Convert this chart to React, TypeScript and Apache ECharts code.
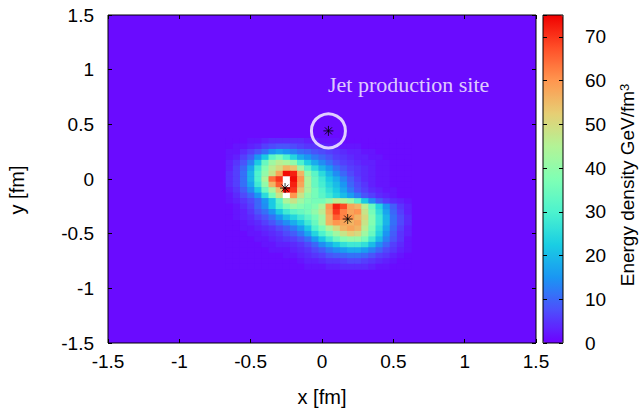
import { useEffect, useRef } from "react";
import * as echarts from "echarts";

// Cell centres (fm) of the region where the density differs from the background
const X_CENTERS = [-0.65, -0.6, -0.55, -0.5, -0.45, -0.4, -0.35, -0.3, -0.25, -0.2, -0.15, -0.1, -0.05, 0, 0.05, 0.1, 0.15, 0.2, 0.25, 0.3, 0.35, 0.4, 0.45, 0.5, 0.55, 0.6];
const Y_CENTERS = [0.35, 0.3, 0.25, 0.2, 0.15, 0.1, 0.05, 0, -0.05, -0.1, -0.15, -0.2, -0.25, -0.3, -0.35, -0.4, -0.45, -0.5, -0.55, -0.6, -0.65, -0.7, -0.75, -0.8];
const CELL = 0.05;

// Energy density (GeV/fm^3), one row per Y_CENTERS entry, one column per X_CENTERS entry
const DENSITY: number[][] = [
  [1, 1, 1, 2, 2, 3, 4, 4, 4, 4, 4, 3, 3, 2, 2, 2, 1, 1, 1, 1, 1, 1, 1, 1, 1, 1],
  [1, 2, 2, 3, 4, 6, 7, 8, 8, 7, 6, 5, 5, 4, 3, 3, 2, 2, 2, 1, 1, 1, 1, 1, 1, 1],
  [2, 2, 4, 6, 8, 11, 15, 17, 15, 13, 11, 10, 8, 7, 6, 5, 4, 3, 3, 2, 2, 1, 1, 1, 1, 1],
  [2, 3, 6, 9, 15, 22, 32, 36, 30, 24, 18, 15, 12, 10, 8, 6, 5, 4, 3, 3, 2, 2, 1, 1, 1, 1],
  [3, 5, 8, 13, 22, 34, 42, 46, 44, 40, 30, 23, 18, 14, 11, 8, 6, 5, 4, 3, 3, 2, 2, 1, 1, 1],
  [3, 6, 10, 17, 28, 38, 46, 50, 56, 54, 42, 32, 25, 19, 15, 11, 8, 6, 5, 4, 3, 2, 2, 1, 1, 1],
  [4, 6, 11, 19, 30, 40, 48, 58, 74, 72, 56, 40, 32, 25, 19, 14, 10, 7, 5, 4, 3, 2, 2, 1, 1, 1],
  [4, 6, 11, 19, 30, 44, 64, 70, 76, 74, 60, 44, 34, 28, 22, 18, 13, 9, 6, 4, 3, 2, 2, 1, 1, 1],
  [4, 6, 11, 17, 28, 40, 56, 66, 76, 72, 58, 44, 34, 29, 24, 20, 15, 10, 7, 5, 3, 2, 2, 1, 1, 1],
  [3, 5, 9, 14, 22, 34, 44, 54, 74, 70, 54, 44, 36, 31, 26, 22, 17, 12, 8, 6, 4, 3, 2, 2, 1, 1],
  [2, 4, 7, 10, 15, 25, 36, 48, 80, 60, 48, 40, 36, 32, 28, 24, 20, 16, 12, 8, 6, 4, 3, 2, 1, 1],
  [2, 3, 5, 7, 10, 15, 22, 32, 44, 48, 42, 38, 36, 36, 40, 46, 44, 40, 32, 22, 14, 9, 6, 4, 3, 2],
  [1, 2, 4, 6, 10, 14, 22, 30, 36, 40, 38, 36, 38, 44, 60, 72, 68, 58, 56, 46, 34, 24, 15, 9, 5, 3],
  [1, 2, 3, 5, 8, 11, 15, 22, 28, 32, 34, 36, 40, 46, 58, 70, 62, 58, 60, 48, 36, 26, 17, 10, 6, 3],
  [1, 2, 3, 4, 6, 8, 11, 15, 20, 24, 28, 32, 36, 42, 56, 66, 62, 60, 56, 50, 38, 28, 19, 11, 7, 4],
  [1, 1, 2, 3, 4, 6, 8, 11, 14, 18, 22, 28, 34, 42, 56, 60, 58, 56, 58, 48, 38, 28, 19, 11, 7, 4],
  [1, 1, 2, 2, 3, 4, 5, 7, 9, 12, 16, 22, 30, 36, 44, 50, 56, 58, 56, 46, 36, 26, 17, 10, 6, 3],
  [1, 1, 1, 2, 2, 3, 4, 5, 7, 9, 12, 17, 24, 30, 36, 42, 48, 52, 50, 42, 34, 24, 15, 9, 5, 3],
  [1, 1, 1, 1, 2, 2, 3, 4, 5, 6, 8, 11, 16, 22, 28, 34, 38, 40, 40, 36, 28, 20, 13, 8, 5, 2],
  [1, 1, 1, 1, 1, 2, 2, 3, 3, 4, 5, 7, 10, 14, 18, 22, 26, 28, 28, 26, 20, 14, 10, 6, 4, 2],
  [1, 1, 1, 1, 1, 1, 2, 2, 2, 3, 4, 5, 7, 9, 12, 14, 16, 18, 18, 16, 13, 10, 7, 5, 3, 2],
  [1, 1, 1, 1, 1, 1, 1, 1, 2, 2, 3, 4, 5, 6, 8, 9, 10, 11, 11, 10, 8, 6, 5, 3, 2, 1],
  [1, 1, 1, 1, 1, 1, 1, 1, 1, 1, 2, 3, 3, 4, 5, 5, 6, 7, 7, 6, 5, 4, 3, 2, 1, 1],
  [1, 1, 1, 1, 1, 1, 1, 1, 1, 1, 1, 2, 2, 2, 3, 3, 4, 4, 4, 4, 3, 2, 2, 1, 1, 1],
];

// Black asterisks: two hot spots and the jet production site
const STAR_POINTS = [
  [-0.259, -0.083],
  [0.18, -0.366],
  [0.045, 0.44],
];
const JET_SITE = [[0.045, 0.44]];
const JET_LABEL_POS = [[0.042, 0.86]];
const JET_LABEL = "Jet production site";

const CB_MIN = 0;
const CB_MAX = 75;
const PALETTE = [
  "#6e00ff", "#4d4ffc", "#1a96f3", "#1acee3", "#4df3ce", "#80ffb4",
  "#b3f396", "#e6ce74", "#ff964f", "#ff4f28", "#f00000",
];
const OVER_COLOR = "#ffffff";

const SANS = "'Liberation Sans', Arial, Helvetica, sans-serif";
const SERIF = "'Liberation Serif', 'Times New Roman', serif";

export default function App() {
  const ref = useRef<HTMLDivElement>(null);

  useEffect(() => {
    const chart = echarts.init(ref.current!, null, { renderer: "svg" });

    const cells: number[][] = [];
    Y_CENTERS.forEach((y, r) => {
      X_CENTERS.forEach((x, c) => {
        cells.push([x, y, DENSITY[r][c]]);
      });
    });

    const tickStyle = { inside: true, length: 4, lineStyle: { color: "#000", width: 1 } };
    const labelStyle = { color: "#000", fontSize: 19, fontFamily: SANS };
    const noLine = { show: false, onZero: false };

    const option: any = {
      animation: false,
      backgroundColor: "#ffffff",
      grid: [
        {
          left: 108, top: 15, width: 428, height: 328,
          show: true, backgroundColor: "#6a0bff", borderColor: "#000", borderWidth: 1,
        },
        { left: 543, top: 15, width: 20, height: 328, show: false },
      ],
      xAxis: [
        {
          type: "value", gridIndex: 0, position: "bottom", min: -1.5, max: 1.5, interval: 0.5,
          axisLine: noLine, axisTick: tickStyle, splitLine: { show: false },
          axisLabel: { ...labelStyle, margin: 9 }, z: 5,
        },
        {
          type: "value", gridIndex: 0, position: "top", min: -1.5, max: 1.5, interval: 0.5,
          axisLine: noLine, axisTick: tickStyle, splitLine: { show: false },
          axisLabel: { show: false }, z: 5,
        },
        { type: "value", gridIndex: 1, min: 0, max: 1, show: false, axisLine: noLine },
      ],
      yAxis: [
        {
          type: "value", gridIndex: 0, position: "left", min: -1.5, max: 1.5, interval: 0.5,
          axisLine: noLine, axisTick: tickStyle, splitLine: { show: false },
          axisLabel: { ...labelStyle, margin: 14 }, z: 5,
        },
        {
          type: "value", gridIndex: 0, position: "right", min: -1.5, max: 1.5, interval: 0.5,
          axisLine: noLine, axisTick: tickStyle, splitLine: { show: false },
          axisLabel: { show: false }, z: 5,
        },
        {
          type: "value", gridIndex: 1, position: "left", min: CB_MIN, max: CB_MAX, interval: 10,
          axisLine: noLine, axisTick: tickStyle, splitLine: { show: false },
          axisLabel: { show: false }, z: 10,
        },
        {
          type: "value", gridIndex: 1, position: "right", min: CB_MIN, max: CB_MAX, interval: 10,
          axisLine: noLine, axisTick: tickStyle, splitLine: { show: false },
          axisLabel: { ...labelStyle, margin: 22, showMaxLabel: false }, z: 10,
        },
      ],
      visualMap: {
        type: "continuous",
        min: CB_MIN,
        max: CB_MAX,
        dimension: 2,
        seriesIndex: 0,
        left: 543,
        top: 15,
        itemWidth: 20,
        itemHeight: 328,
        padding: 0,
        calculable: false,
        hoverLink: false,
        inRange: { color: PALETTE },
        z: 4,
      },
      series: [
        {
          type: "custom",
          xAxisIndex: 0,
          yAxisIndex: 0,
          data: cells,
          encode: { x: 0, y: 1 },
          silent: true,
          renderItem: (_params: any, api: any) => {
            const x = api.value(0) as number;
            const y = api.value(1) as number;
            const v = api.value(2) as number;
            const a = api.coord([x - CELL / 2, y + CELL / 2]);
            const b = api.coord([x + CELL / 2, y - CELL / 2]);
            return {
              type: "rect",
              shape: { x: a[0], y: a[1], width: b[0] - a[0] + 0.6, height: b[1] - a[1] + 0.6 },
              style: { fill: v > CB_MAX ? OVER_COLOR : api.visual("color") },
            };
          },
        },
        {
          type: "scatter",
          xAxisIndex: 0,
          yAxisIndex: 0,
          data: JET_SITE,
          symbol: "circle",
          symbolSize: 34,
          silent: true,
          itemStyle: { color: "rgba(0,0,0,0)", borderColor: "#ffffff", borderWidth: 3 },
          z: 6,
        },
        {
          type: "scatter",
          xAxisIndex: 0,
          yAxisIndex: 0,
          data: STAR_POINTS,
          symbol: "path://M5,0L5,10M0,5L10,5M1.5,1.5L8.5,8.5M1.5,8.5L8.5,1.5",
          symbolSize: 10,
          silent: true,
          itemStyle: { color: "rgba(0,0,0,0)", borderColor: "#000", borderWidth: 1 },
          z: 7,
        },
        {
          type: "scatter",
          xAxisIndex: 0,
          yAxisIndex: 0,
          data: JET_LABEL_POS,
          symbolSize: 0,
          silent: true,
          label: {
            show: true,
            formatter: JET_LABEL,
            position: "right",
            distance: 0,
            color: "#ffffff",
            fontFamily: SERIF,
            fontSize: 22,
            verticalAlign: "middle",
          },
          z: 7,
        },
      ],
      graphic: [
        {
          type: "rect",
          shape: { x: 543, y: 15, width: 20, height: 328 },
          style: { fill: "none", stroke: "#000", lineWidth: 1 },
          z: 100,
          silent: true,
        },
        {
          type: "text",
          x: 322,
          y: 397,
          style: { text: "x [fm]", fill: "#000", font: `20px ${SANS}`, align: "center", verticalAlign: "middle" },
          z: 100,
        },
        {
          type: "text",
          x: 17,
          y: 190,
          rotation: Math.PI / 2,
          style: { text: "y [fm]", fill: "#000", font: `20px ${SANS}`, align: "center", verticalAlign: "middle" },
          z: 100,
        },
        {
          type: "text",
          x: 627,
          y: 185,
          rotation: Math.PI / 2,
          style: {
            text: "Energy density GeV/fm{sup|3}",
            fill: "#000",
            font: `19px ${SANS}`,
            align: "center",
            verticalAlign: "middle",
            rich: {
              sup: { fontSize: 13, fontFamily: SANS, verticalAlign: "top", fill: "#000" },
            },
          },
          z: 100,
        },
      ],
    };

    chart.setOption(option);
    return () => chart.dispose();
  }, []);

  return (
    <div
      ref={ref}
      style={{ position: "fixed", left: 0, top: 0, width: 640, height: 411 }}
    />
  );
}
